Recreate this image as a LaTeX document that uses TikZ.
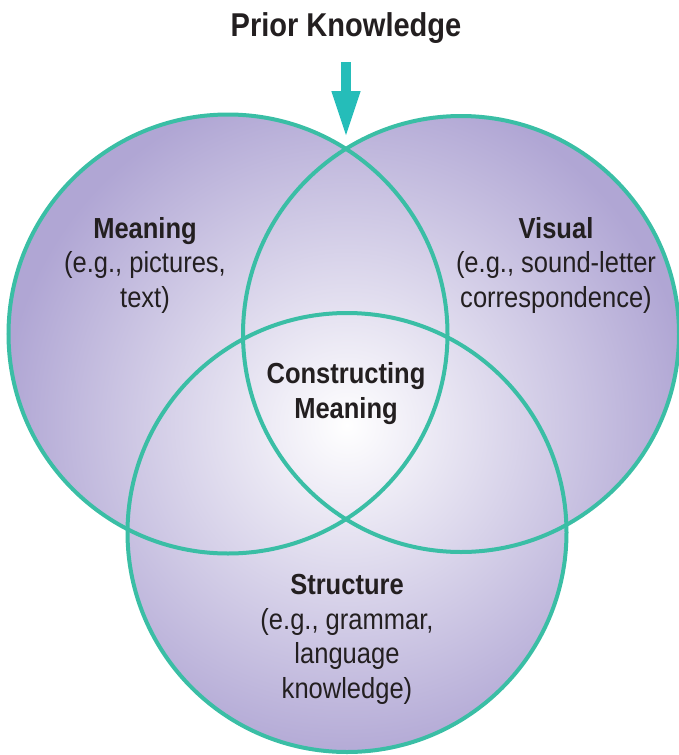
\documentclass[tikz,border=0pt]{standalone}
\usepackage{fontspec}
\setmainfont[FakeStretch=0.88]{Liberation Sans}
\usetikzlibrary{arrows.meta}
\definecolor{lav}{RGB}{176,166,212}
\definecolor{ring}{RGB}{58,190,165}
\definecolor{arrowc}{RGB}{37,189,185}
\definecolor{ink}{RGB}{35,31,32}
\pgfdeclareradialshading{vennshade}{\pgfpoint{0bp}{0bp}}{color(0bp)=(white); color(25bp)=(lav); color(50bp)=(lav)}
\begin{document}
\begin{tikzpicture}[x=1pt,y=-1pt,
  vring/.style={circle, draw=ring, line width=4pt, inner sep=0pt, outer sep=0pt, minimum size=#1},
  lbl/.style={text=ink, align=center, inner sep=0pt, anchor=base, font=\fontsize{29}{34.5}\selectfont},
  ttl/.style={text=ink, inner sep=0pt, anchor=base, font=\fontsize{33}{39}\selectfont\bfseries},
  pkarrow/.style={draw=arrowc, line width=10pt, -{Triangle[length=47pt,width=26pt,fill=arrowc]}}
]
\useasboundingbox (0,0) rectangle (679,755);
\begin{scope}
  \clip (228,334) circle[radius=219.5pt] (461,334) circle[radius=218pt] (347,532.5) circle[radius=219.5pt];
  \shade[shading=vennshade] (2,80) rectangle (692,770);
\end{scope}
\node[vring=439pt] (meaningc) at (228,334) {};
\node[vring=436pt] (visualc) at (461,334) {};
\node[vring=439pt] (structc) at (347,532.5) {};
\node[ttl] (pk) at (346,36) {Prior Knowledge};
\coordinate (pkstart) at (346,62);
\coordinate (pktip) at (346,138);
\draw[pkarrow] (pkstart) -- (pktip);
\node[lbl] (meaning) at (145,307) {\textbf{Meaning}\\(e.g., pictures,\\text)};
\node[lbl] (visual) at (556,307) {\textbf{Visual}\\(e.g., sound-letter\\correspondence)};
\node[lbl] (center) at (346,418) {\textbf{Constructing}\\\textbf{Meaning}};
\node[lbl] (structure) at (347,698) {\textbf{Structure}\\(e.g., grammar,\\language\\knowledge)};
\end{tikzpicture}
\end{document}
